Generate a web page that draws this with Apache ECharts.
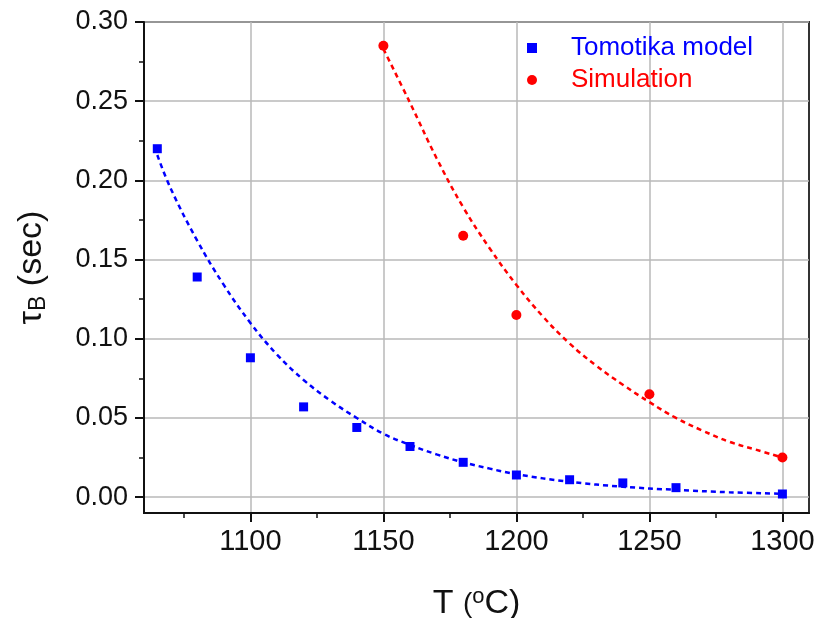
<!DOCTYPE html>
<html>
<head>
<meta charset="utf-8">
<title>Breakup time vs temperature</title>
<script src="https://cdn.jsdelivr.net/npm/echarts@6/dist/echarts.min.js"></script>
<style>
  html, body { margin: 0; padding: 0; background: #fff; }
  #chart { width: 820px; height: 618px; }
</style>
</head>
<body>
<div id="chart"></div>
<script>
// Tomotika model: temperature (°C) and breakup time (s)
const tomotikaT   = [1065, 1080, 1100, 1120, 1140, 1160, 1180, 1200, 1220, 1240, 1260, 1300];
const tomotikaTau = [0.220, 0.139, 0.088, 0.057, 0.044, 0.032, 0.022, 0.014, 0.011, 0.009, 0.006, 0.002];

// Simulation results
const simT   = [1150, 1180, 1200, 1250, 1300];
const simTau = [0.285, 0.165, 0.115, 0.065, 0.025];

// Decay fit through the Tomotika points
const tomotikaFitT   = [1065, 1070, 1080, 1090, 1100, 1110, 1120, 1130, 1140, 1150, 1160, 1170, 1180, 1190, 1200, 1220, 1240, 1260, 1280, 1300];
const tomotikaFitTau = [0.216, 0.195, 0.162, 0.134, 0.110, 0.090, 0.074, 0.061, 0.050, 0.040, 0.033, 0.027, 0.022, 0.018, 0.0145, 0.0097, 0.0066, 0.0046, 0.0031, 0.0021];

// Decay fit through the simulation points
const simFitT   = [1150, 1160, 1170, 1180, 1190, 1200, 1210, 1220, 1230, 1240, 1250, 1260, 1270, 1280, 1290, 1300];
const simFitTau = [0.283, 0.249, 0.214, 0.183, 0.157, 0.134, 0.114, 0.097, 0.083, 0.071, 0.060, 0.050, 0.042, 0.035, 0.030, 0.025];

// Axis ticks
const xMajorTicks = [1100, 1150, 1200, 1250, 1300];
const xMinorTicks = [1075, 1125, 1175, 1225, 1275];
const yMajorTicks = [0, 0.05, 0.10, 0.15, 0.20, 0.25, 0.30];
const yMinorTicks = [0.025, 0.075, 0.125, 0.175, 0.225, 0.275];

const FONT = 'Liberation Sans, Arial, Helvetica, sans-serif';
const zip = (xs, ys) => xs.map((x, i) => [x, ys[i]]);

const chart = echarts.init(document.getElementById('chart'), null, { renderer: 'canvas' });

const xRange = { min: 1060, max: 1310 };
const yRange = { min: -0.01, max: 0.30 };

chart.setOption({
  animation: false,
  backgroundColor: '#ffffff',
  grid: {
    left: 144, right: 11, top: 22, bottom: 105,
    outerBoundsMode: 'none', containLabel: false,
    show: true, borderColor: '#333', borderWidth: 2, backgroundColor: 'transparent'
  },
  legend: {
    orient: 'vertical',
    left: 522, top: 30,
    itemWidth: 10, itemHeight: 10,
    itemGap: 6,
    data: [
      { name: 'Tomotika model', icon: 'rect', textStyle: { color: '#0000ff' } },
      { name: 'Simulation', icon: 'circle', textStyle: { color: '#ff0000' } }
    ],
    textStyle: { fontFamily: FONT, fontSize: 26, lineHeight: 26, padding: [0, 0, 0, 29] }
  },
  xAxis: [
    {
      type: 'value', ...xRange,
      name: '{a|T }{p|(}{s|o}{a|C)}',
      nameLocation: 'middle',
      nameGap: 73,
      nameTextStyle: {
        rich: {
          a: { fontFamily: FONT, fontSize: 34, color: '#111' },
          p: { fontFamily: FONT, fontSize: 28, color: '#111' },
          s: { fontFamily: FONT, fontSize: 22, color: '#111', padding: [0, 0, 14, 0] }
        }
      },
      axisLine: { show: true, onZero: false, lineStyle: { color: '#111', width: 2 } },
      axisTick: { show: true, inside: false, length: 9, customValues: xMajorTicks, lineStyle: { color: '#111', width: 2 } },
      axisLabel: {
        customValues: xMajorTicks, margin: 14,
        fontFamily: FONT, fontSize: 29, color: '#111',
        formatter: v => String(v)
      },
      splitLine: { show: true, lineStyle: { color: '#b8b8b8', width: 1.5 } }
    },
    {
      type: 'value', ...xRange, position: 'bottom',
      axisLine: { show: false, onZero: false },
      axisTick: { show: true, inside: false, length: 5, customValues: xMinorTicks, lineStyle: { color: '#111', width: 1.5 } },
      axisLabel: { show: false },
      splitLine: { show: false }
    }
  ],
  yAxis: [
    {
      type: 'value', ...yRange,
      name: '{t|τ}{b|B}{a| (sec)}',
      nameLocation: 'middle',
      nameRotate: 90,
      nameGap: 94,
      nameTextStyle: {
        rich: {
          t: { fontFamily: FONT, fontSize: 34, color: '#111' },
          b: { fontFamily: FONT, fontSize: 23, color: '#111', padding: [13, 0, 0, 0] },
          a: { fontFamily: FONT, fontSize: 34, color: '#111' }
        }
      },
      axisLine: { show: true, onZero: false, lineStyle: { color: '#111', width: 2 } },
      axisTick: { show: true, inside: false, length: 9, customValues: yMajorTicks, lineStyle: { color: '#111', width: 2 } },
      axisLabel: {
        customValues: yMajorTicks, margin: 16,
        fontFamily: FONT, fontSize: 27, color: '#111',
        formatter: v => v.toFixed(2)
      },
      splitLine: { show: true, lineStyle: { color: '#b8b8b8', width: 1.5 } }
    },
    {
      type: 'value', ...yRange, position: 'left',
      axisLine: { show: false, onZero: false },
      axisTick: { show: true, inside: false, length: 5, customValues: yMinorTicks, lineStyle: { color: '#111', width: 1.5 } },
      axisLabel: { show: false },
      splitLine: { show: false }
    }
  ],
  series: [
    {
      name: 'Tomotika fit', type: 'line', smooth: 0.4, showSymbol: false, silent: true,
      data: zip(tomotikaFitT, tomotikaFitTau),
      lineStyle: { color: '#0000ff', width: 2.5, type: [5, 4] }, z: 2
    },
    {
      name: 'Simulation fit', type: 'line', smooth: 0.4, showSymbol: false, silent: true,
      data: zip(simFitT, simFitTau),
      lineStyle: { color: '#ff0000', width: 2.5, type: [5, 4] }, z: 2
    },
    {
      name: 'Tomotika model', type: 'scatter', symbol: 'rect', symbolSize: 9,
      itemStyle: { color: '#0000ff', opacity: 1 },
      data: zip(tomotikaT, tomotikaTau), z: 3
    },
    {
      name: 'Simulation', type: 'scatter', symbol: 'circle', symbolSize: 10,
      itemStyle: { color: '#ff0000', opacity: 1 },
      data: zip(simT, simTau), z: 3
    }
  ]
});
</script>
</body>
</html>
